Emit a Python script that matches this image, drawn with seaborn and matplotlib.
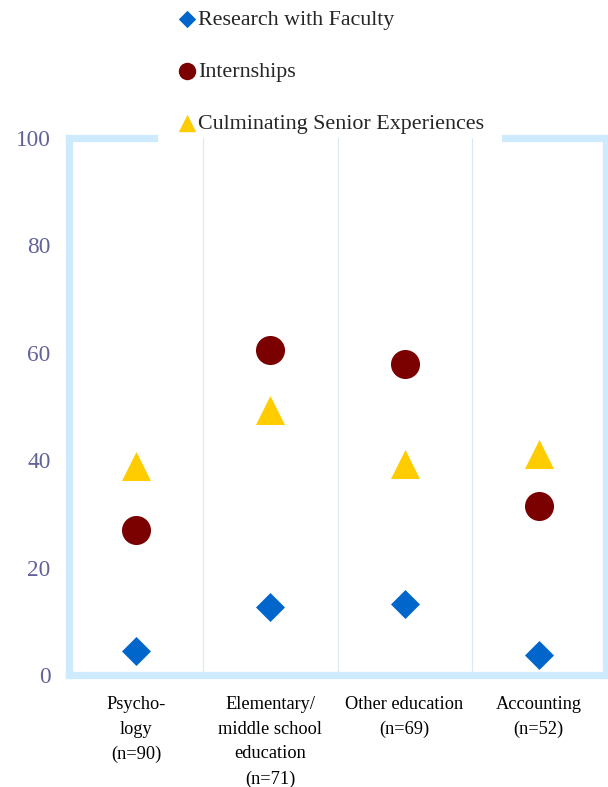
import matplotlib
matplotlib.use("Agg")
import matplotlib.pyplot as plt
import seaborn as sns
import pandas as pd

# Participation in high-impact practices by major (percent)
majors = ["Psycho-\nlogy\n(n=90)",
          "Elementary/\nmiddle school\neducation\n(n=71)",
          "Other education\n(n=69)",
          "Accounting\n(n=52)"]
research = [4.5, 12.6, 13.2, 3.7]
internships = [26.9, 60.4, 57.9, 31.4]
senior_exp = [38.8, 49.3, 39.2, 41.2]
y_ticks = [0, 20, 40, 60, 80, 100]

series = [
    ("Research with Faculty", research, "D", "#0066cc", 218),
    ("Internships", internships, "o", "#7b0000", 437),
    ("Culminating Senior Experiences", senior_exp, "^", "#ffcc00", 437),
]

sns.set_theme(style="white")
plt.rcParams['font.family'] = ['Liberation Serif', 'DejaVu Serif']

fig = plt.figure(figsize=(6.08, 7.87), dpi=100)
ax = fig.add_axes([0.1143, 0.1423, 0.8816, 0.6829])

frame_col = "#cdebfc"

for name, vals, mk, col, size in series:
    df = pd.DataFrame({"Major": majors, "Percent": vals})
    sns.scatterplot(data=df, x="Major", y="Percent", marker=mk, color=col,
                    s=size, linewidth=0, ax=ax, label=name, zorder=3,
                    legend=False)

ax.set_xlim(-0.5, len(majors) - 0.5)
ax.set_ylim(0, 100)
ax.set_yticks(y_ticks)
ax.set_xlabel("")
ax.set_ylabel("")

# category dividers
for i in range(len(majors) - 1):
    ax.axvline(i + 0.5, color="#d9eaf6", lw=0.9, zorder=1)

# frame: thick light blue, gap at top for legend
for side in ["left", "right", "bottom"]:
    ax.spines[side].set_color(frame_col)
    ax.spines[side].set_linewidth(5.2)
ax.spines["top"].set_visible(False)
ax.axhline(100, 0, 0.157, color=frame_col, lw=5.2, clip_on=False,
           solid_capstyle="projecting", zorder=2)
ax.axhline(100, 0.812, 1, color=frame_col, lw=5.2, clip_on=False,
           solid_capstyle="projecting", zorder=2)

ax.tick_params(axis="y", length=0, pad=13.5, labelsize=16.8,
               labelcolor="#62629a")
ax.tick_params(axis="x", length=0, pad=15, labelsize=13.2,
               labelcolor="black")
for lab in ax.get_xticklabels():
    lab.set_linespacing(1.6)

handles, labels = ax.get_legend_handles_labels()
fig.legend(handles, labels, loc="upper left", bbox_to_anchor=(0.293, 0.988),
           frameon=False, fontsize=15.8, markerscale=0.6, handlelength=0.8,
           handletextpad=0.1, labelspacing=1.45, borderpad=0,
           borderaxespad=0)

fig.savefig("out.png", dpi=100)
